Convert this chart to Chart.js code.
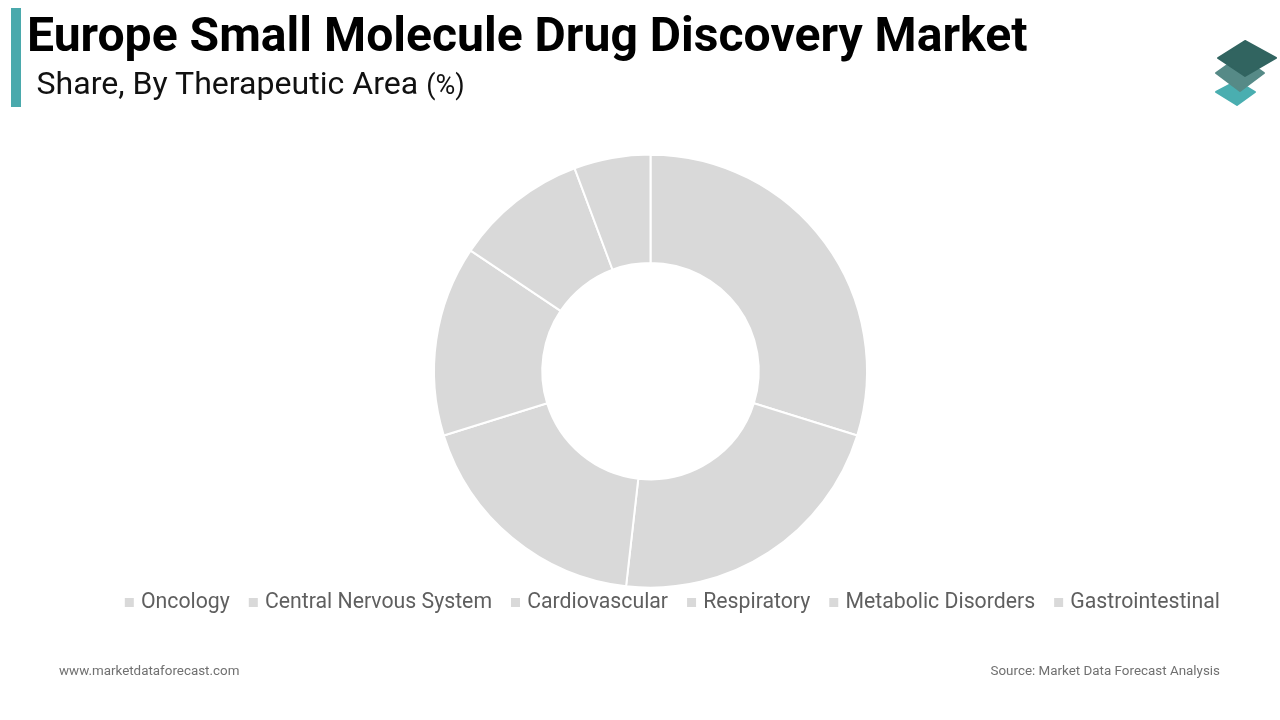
<!DOCTYPE html>
<html>
<head>
<meta charset="utf-8">
<title>Europe Small Molecule Drug Discovery Market</title>
<script src="https://cdn.jsdelivr.net/npm/chart.js@4"></script>
<style>
  html, body { margin:0; padding:0; background:#fff; width:1280px; height:720px; overflow:hidden; font-family:Roboto, sans-serif; }
  #chart { position:absolute; left:0; top:0; width:1280px; height:720px; }
  .bar { position:absolute; left:11px; top:8px; width:10px; height:99px; background:#4aa9ac; }
  h1 { position:absolute; left:27px; top:8px; margin:0; font-size:48.1px; line-height:54px; font-weight:700; color:#000; white-space:nowrap; }
  h2 { position:absolute; left:36.5px; top:64px; margin:0; font-size:32.1px; line-height:38px; font-weight:400; color:#111; white-space:nowrap; }
  h2 small { font-size:27px; }
  .foot { position:absolute; top:662px; font-size:13.4px; line-height:17px; color:#707070; white-space:nowrap; }
  #logo { position:absolute; left:1190px; top:30px; }
</style>
</head>
<body>
<canvas id="chart" width="1280" height="720"></canvas>
<div class="bar"></div>
<h1>Europe Small Molecule Drug Discovery Market</h1>
<h2>Share, By Therapeutic Area <small>(%)</small></h2>
<svg id="logo" width="90" height="85" viewBox="1190 30 90 85">
  <polygon points="1237,81 1255,92 1237,105 1216,92" fill="#4aaeb0" stroke="#4aaeb0" stroke-width="2" stroke-linejoin="round"/>
  <polygon points="1240,56 1264,73 1240,91 1216,73" fill="#568a87" stroke="#568a87" stroke-width="2" stroke-linejoin="round"/>
  <polygon points="1245,41 1276,58 1245,76 1218,58" fill="#316460" stroke="#316460" stroke-width="2" stroke-linejoin="round"/>
</svg>
<div class="foot" style="left:59px">www.marketdataforecast.com</div>
<div class="foot" style="right:60px">Source: Market Data Forecast Analysis</div>
<script>
// Slice values
const categories = ['Oncology', 'Central Nervous System', 'Cardiovascular', 'Respiratory', 'Metabolic Disorders', 'Gastrointestinal'];
const shares = [29.8, 22.0, 18.4, 14.2, 9.9, 5.7];
const sliceColors = ['#d9d9d9', '#d9d9d9', '#d9d9d9', '#d9d9d9', '#d9d9d9', '#d9d9d9'];

new Chart(document.getElementById('chart'), {
  type: 'doughnut',
  data: {
    labels: categories,
    datasets: [{
      data: shares,
      backgroundColor: sliceColors,
      borderColor: '#ffffff',
      borderWidth: 2,
      clip: false
    }]
  },
  options: {
    responsive: false,
    animation: false,
    devicePixelRatio: 1,
    radius: 216.5,
    cutout: '50%',
    layout: { padding: { left: 58.5, right: 37.5, top: 173, bottom: 97 } },
    plugins: {
      tooltip: { enabled: false },
      legend: {
        position: 'bottom',
        align: 'end',
        labels: {
          usePointStyle: true,
          pointStyle: 'rect',
          boxWidth: 2,
          boxHeight: 11,
          padding: 22.5,
          color: '#5f5f5f',
          font: { family: 'Roboto', size: 21.25 }
        }
      }
    }
  }
});
</script>
</body>
</html>
